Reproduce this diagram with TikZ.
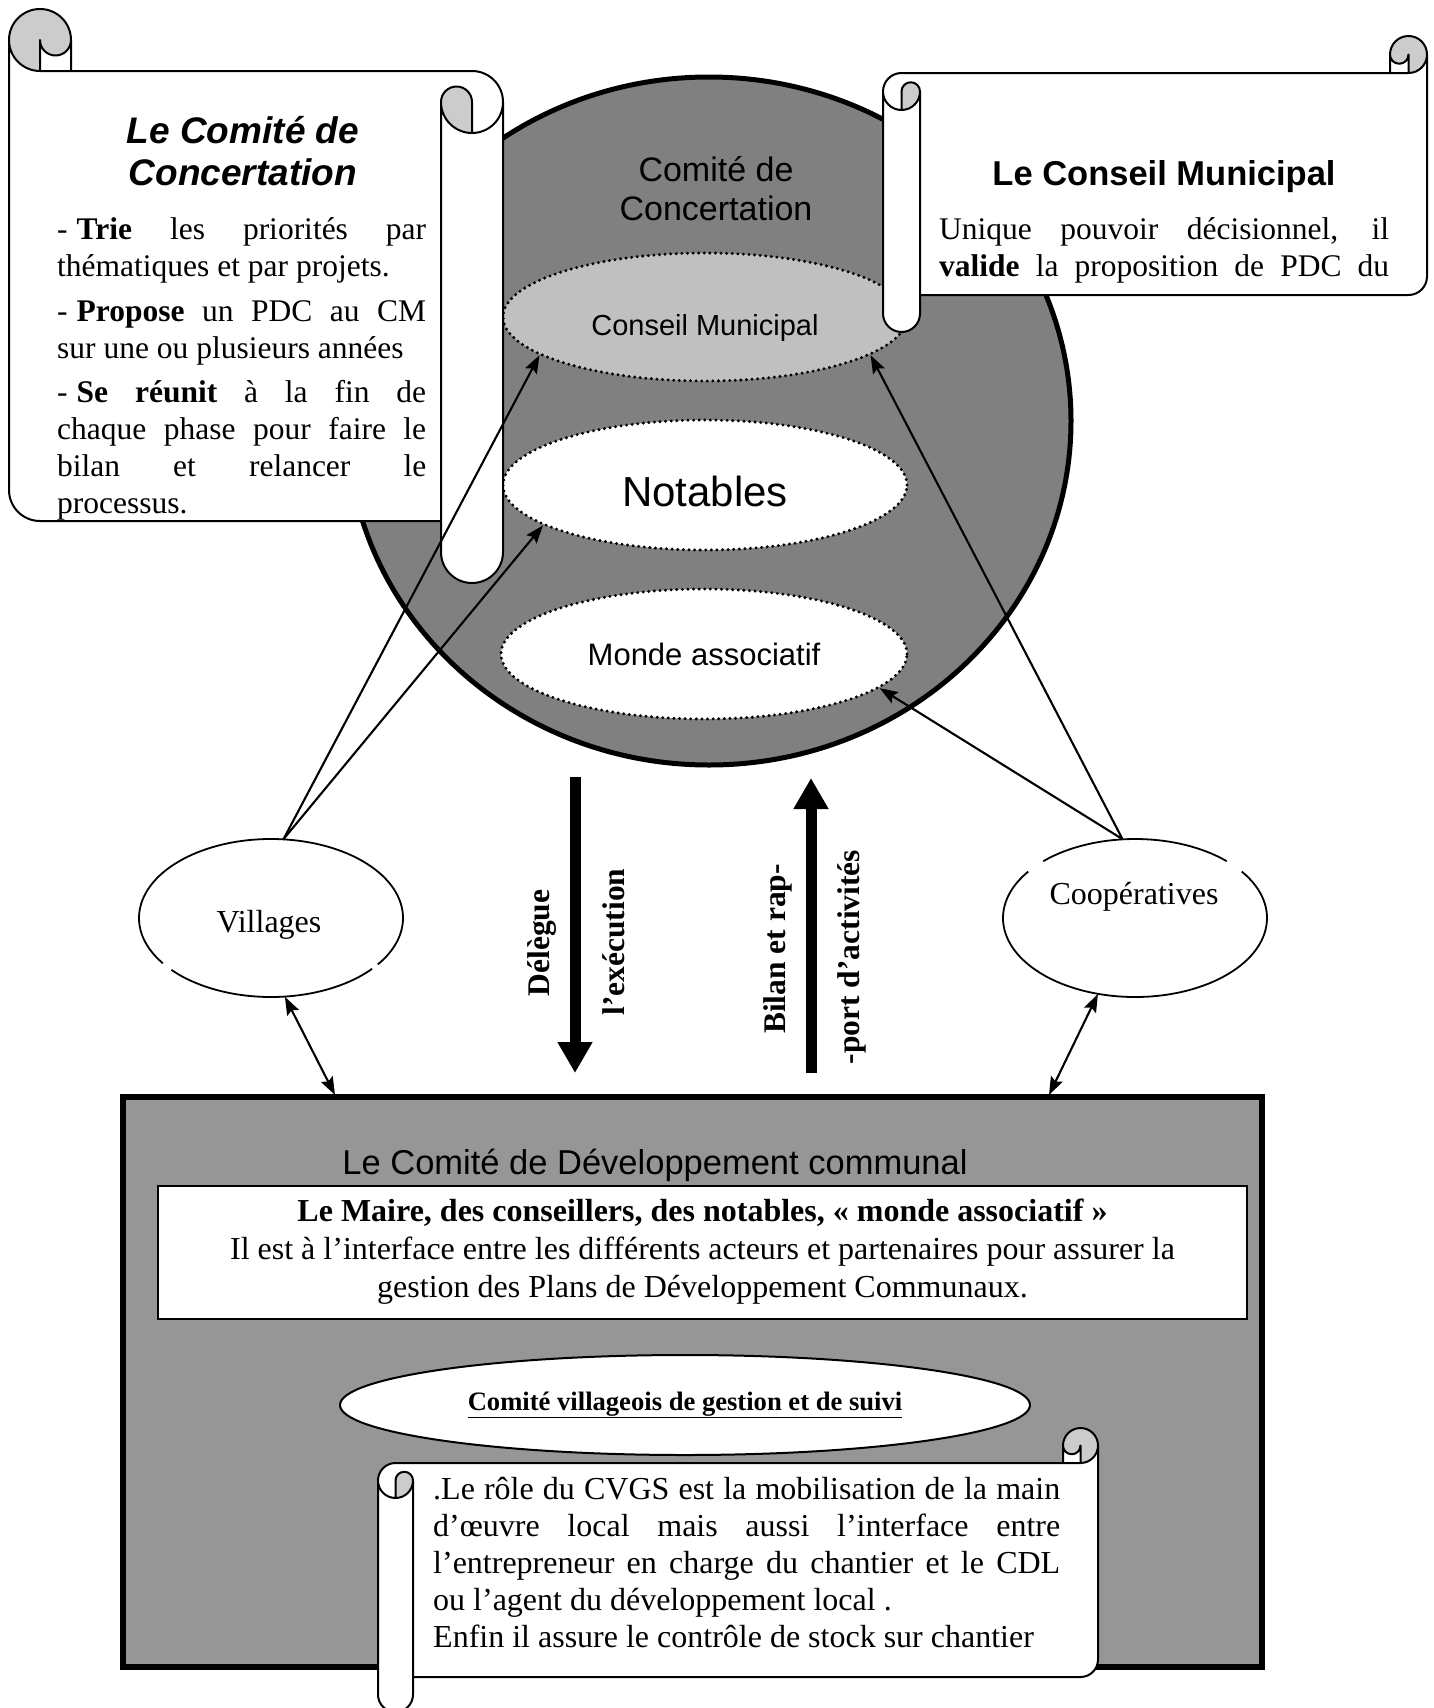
\documentclass[tikz,border=0pt]{standalone}
\usepackage{fontspec}
\setmainfont{Liberation Serif}
\newfontfamily\arialfont{Liberation Sans}
\usetikzlibrary{arrows.meta,shapes.geometric}
\definecolor{circgray}{HTML}{808080}
\definecolor{boxgray}{HTML}{969696}
\definecolor{cmgray}{HTML}{C0C0C0}
\definecolor{curlgray}{HTML}{CCCCCC}

% horizontal scroll: #1=left #2=top #3=right #4=bottom #5=roll size
\newcommand{\hscrollshape}[5]{%
  \begin{scope}[shift={(#1,#2)}]
  \pgfmathsetmacro{\scW}{#3-#1}%
  \pgfmathsetmacro{\scH}{#4-#2}%
  \pgfmathsetmacro{\scC}{#5}%
  \pgfmathsetmacro{\scCh}{#5/2}%
  \pgfmathsetmacro{\scCq}{#5/4}%
  \pgfmathsetmacro{\scYa}{1.5*#5}%
  \pgfmathsetmacro{\scYb}{2*#5}%
  \pgfmathsetmacro{\scYd}{\scH-#5}%
  \pgfmathsetmacro{\scYe}{\scH-#5/2}%
  \pgfmathsetmacro{\scYc}{\scYd-#5/2}%
  \pgfmathsetmacro{\scXa}{\scW-#5}%
  \pgfmathsetmacro{\scXb}{\scW-#5/2}%
  \fill[white] (\scW,\scCh) arc[start angle=0,delta angle=90,radius=\scCh]
     -- (\scXb,\scCh) arc[start angle=0,delta angle=180,radius=\scCq]
     -- (\scXa,\scC) -- (\scCh,\scC) arc[start angle=270,delta angle=-90,radius=\scCh]
     -- (0,\scYe) arc[start angle=180,delta angle=-180,radius=\scCh]
     -- (\scC,\scYd) -- (\scXb,\scYd) arc[start angle=90,delta angle=-90,radius=\scCh] -- cycle;
  \fill[curlgray] (\scCh,\scYb) arc[start angle=90,delta angle=-90,radius=\scCh]
     arc[start angle=0,delta angle=-180,radius=\scCq] -- cycle;
  \fill[curlgray] (\scXb,\scC) arc[start angle=90,delta angle=-270,radius=\scCh]
     arc[start angle=180,delta angle=-180,radius=\scCq] -- cycle;
  \draw[scrollline] (0,\scYa) arc[start angle=180,delta angle=90,radius=\scCh]
     -- (\scXa,\scC) -- (\scXa,\scCh) arc[start angle=180,delta angle=180,radius=\scCh]
     -- (\scW,\scYc) arc[start angle=0,delta angle=90,radius=\scCh]
     -- (\scC,\scYd) -- (\scC,\scYe) arc[start angle=0,delta angle=180,radius=\scCh] -- cycle
     (\scXa,\scC) -- (\scXb,\scC) arc[start angle=90,delta angle=-90,radius=\scCh]
     (\scXb,\scC) -- (\scXb,\scCh) arc[start angle=0,delta angle=180,radius=\scCq]
     (\scCh,\scYb) -- (\scCh,\scYa) arc[start angle=180,delta angle=180,radius=\scCq]
       arc[start angle=0,delta angle=180,radius=\scCh]
     (\scC,\scYa) -- (\scC,\scYd);
  \end{scope}}

\tikzset{
  scrollline/.style={draw=black, line width=2pt, line join=round},
  dotell/.style={ellipse, draw, line width=3.3pt, dash pattern=on 0pt off 5.6pt,
     line cap=round, inner sep=0, minimum width=404pt, minimum height=128pt},
  link/.style={line width=2.1pt, -{Stealth[length=18pt,width=13pt,inset=3pt]}},
  dlink/.style={line width=2.1pt, {Stealth[length=18pt,width=13pt,inset=3pt]}-{Stealth[length=18pt,width=13pt,inset=3pt]}},
  bigarrow/.style={line width=11pt, -{Triangle[length=31pt,width=33pt]}},
  outl/.style={line width=1.8pt},
  txt/.style={font=\fontsize{32}{37}\selectfont},
  vlbl/.style={rotate=90, inner sep=0, font=\bfseries\fontsize{31.5}{36}\selectfont}
}

\begin{document}
\begin{tikzpicture}[x=1pt,y=-1pt]
\useasboundingbox (0,0) rectangle (1434,1708);
\fill[white] (0,0) rectangle (1434,1708);

% big circle
\node[ellipse, draw, line width=5pt, fill=circgray, minimum width=724pt,
      minimum height=688pt, inner sep=0] (cc) at (709,421) {};
\node[font=\arialfont\fontsize{34}{39}\selectfont, align=center, inner sep=0] (cct) at (716,189) {Comité de\\Concertation};

% dotted ellipses
\node[dotell, fill=cmgray] (cm) at (705,317) {};
\node[font=\arialfont\fontsize{29}{34}\selectfont, inner sep=0] (cmlbl) at (705,328) {Conseil Municipal};
\node[dotell, fill=white, minimum height=130pt] (not) at (705,485) {};
\node[font=\arialfont\fontsize{42}{48}\selectfont, inner sep=0] (notlbl) at (705,491) {Notables};
\node[dotell, fill=white, font=\arialfont\fontsize{31}{36}\selectfont, minimum width=406pt, minimum height=130pt] (mon) at (704,654) {Monde associatif};

% top-left scroll (mirrored)
\begin{scope}[cm={-1,0,0,1,(512,0)}]
\hscrollshape{9}{9}{503}{583}{62}
\end{scope}
\node[font=\arialfont\bfseries\itshape\fontsize{37}{42}\selectfont, align=center, inner sep=0] (tltitle) at (243,151) {Le Comité de\\Concertation};
\node[anchor=base west, inner sep=0] (tlbody) at (57,239) {\parbox[t]{369pt}{\fontsize{31.5}{37}\selectfont
\makebox[\linewidth][s]{-\kern9pt\textbf{Trie} les priorités par}\\
thématiques et par projets.\\[8pt]
\makebox[\linewidth][s]{-\kern9pt\textbf{Propose} un PDC au CM}\\
sur une ou plusieurs années\\[7pt]
\makebox[\linewidth][s]{-\kern9pt\textbf{Se réunit} à la fin de}\\
\makebox[\linewidth][s]{chaque phase pour faire le}\\
\makebox[\linewidth][s]{bilan et relancer le}\\
processus.}};

% top-right scroll
\hscrollshape{883}{36}{1427}{332}{37}
\node[font=\arialfont\bfseries\fontsize{34.5}{40}\selectfont, inner sep=0] (trtitle) at (1164,177) {Le Conseil Municipal};
\node[anchor=base west, inner sep=0] (trbody) at (939,239) {\parbox[t]{450pt}{\fontsize{31.5}{37}\selectfont
\makebox[\linewidth][s]{Unique pouvoir décisionnel, il}\\
\makebox[\linewidth][s]{\textbf{valide} la proposition de PDC du}}};

% side ellipses
\node[ellipse, fill=white, minimum width=264pt, minimum height=158pt, inner sep=0] (vil) at (271,918) {};
\node[txt, inner sep=0] (villbl) at (269,925) {Villages};
\node[ellipse, fill=white, minimum width=264pt, minimum height=158pt, inner sep=0] (coop) at (1135,918) {};
\node[txt, inner sep=0] (cooplbl) at (1134,897) {Coopératives};
\draw[outl] (vil.center) ++(40:132 and 79) arc[start angle=40, end angle=139, x radius=132, y radius=79];
\draw[outl] (vil.center) ++(145:132 and 79) arc[start angle=145, end angle=396, x radius=132, y radius=79];
\draw[outl] (coop.center) ++(226:132 and 79) arc[start angle=226, end angle=314, x radius=132, y radius=79];
\draw[outl] (coop.center) ++(324:132 and 79) arc[start angle=324, end angle=576, x radius=132, y radius=79];

% connectors to the circle
\draw[link] (vil.81) -- (cm.193);
\draw[link] (vil.81) -- (not.194);
\draw[link] (coop.99) -- (cm.347);
\draw[link] (coop.99) -- (mon.349);

% thick arrows
\coordinate (dtop) at (575,777);
\coordinate (dbot) at (575,1073);
\coordinate (ubot) at (811,1073);
\coordinate (utop) at (811,778);
\draw[bigarrow] (dtop) -- (dbot);
\draw[bigarrow] (ubot) -- (utop);
\node[vlbl] (l1) at (542,943) {Délègue};
\node[vlbl] (l2) at (614,942) {l’exécution};
\node[vlbl] (l3) at (778,949) {Bilan et rap-};
\node[vlbl] (l4) at (852,957) {-port d’activités};

% bottom box
\node[draw, line width=6pt, fill=boxgray, minimum width=1139pt, minimum height=570pt, inner sep=0] (cdc) at (692.5,1382) {};
\node[font=\arialfont\fontsize{34.5}{40}\selectfont, inner sep=0] (cdct) at (655,1165) {Le Comité de Développement communal};
\node[draw, line width=2pt, fill=white, minimum width=1089pt, minimum height=133pt, inner sep=0, align=center,
      font=\fontsize{32}{38}\selectfont] (cdcin) at (702.5,1252) {\textbf{Le Maire, des conseillers, des notables, « monde associatif »}\\
Il est à l’interface entre les différents acteurs et partenaires pour assurer la\\
gestion des Plans de Développement Communaux.};
\node[ellipse, draw, line width=2pt, fill=white, minimum width=690pt, minimum height=100pt, inner sep=0,
      font=\bfseries\fontsize{26.6}{30}\selectfont] (cvgs) at (685,1405) {\underline{Comité villageois de gestion et de suivi}};

% bottom scroll
\hscrollshape{378}{1428}{1098}{1712}{35}
\node[anchor=base west, inner sep=0] (bsbody) at (433,1499) {\parbox[t]{627pt}{\fontsize{32}{37.2}\selectfont
\makebox[\linewidth][s]{.Le rôle du CVGS est la mobilisation de la main}\\
\makebox[\linewidth][s]{d’œuvre local mais aussi l’interface entre}\\
\makebox[\linewidth][s]{l’entrepreneur en charge du chantier et le CDL}\\
ou l’agent du développement local .\\
Enfin il assure le contrôle de stock sur chantier}};

% double arrows
\coordinate (vbox) at (335,1095);
\coordinate (cbox) at (1049,1095);
\draw[dlink] (vil.280) -- (vbox);
\draw[dlink] (coop.244) -- (cbox);
\end{tikzpicture}
\end{document}
